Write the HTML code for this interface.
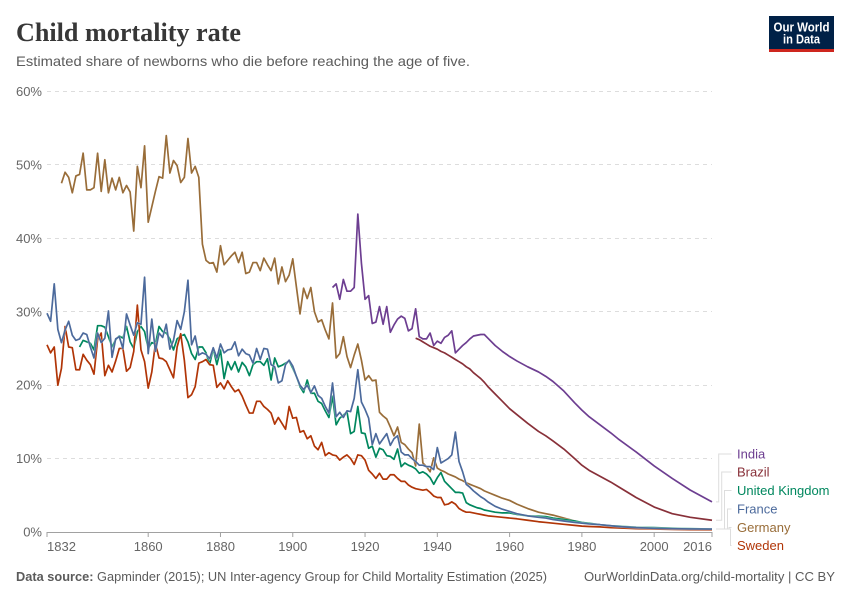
<!DOCTYPE html>
<html lang="en">
<head>
<meta charset="utf-8">
<title>Child mortality rate</title>
<style>
html,body{margin:0;padding:0;background:#fff;}
svg{display:block;font-family:"Liberation Sans",sans-serif;}
</style>
</head>
<body>
<svg id="chart" width="850" height="600" viewBox="0 0 850 600" xmlns="http://www.w3.org/2000/svg">
  <rect width="850" height="600" fill="#fff"/>
  <text x="16" y="41" font-family="'Liberation Serif',serif" font-weight="700" font-size="26" fill="#373737" textLength="225" lengthAdjust="spacingAndGlyphs">Child mortality rate</text>
  <text x="16" y="66" font-size="14" fill="#5b5b5b" textLength="454" lengthAdjust="spacingAndGlyphs">Estimated share of newborns who die before reaching the age of five.</text>
  <g>
    <rect x="769" y="16" width="65" height="36" fill="#002147"/>
    <rect x="769" y="49" width="65" height="3" fill="#ce261e"/>
    <text x="801.5" y="31.5" text-anchor="middle" font-size="12.5" font-weight="700" fill="#fff" textLength="56" lengthAdjust="spacingAndGlyphs">Our World</text>
    <text x="801.5" y="43.5" text-anchor="middle" font-size="12.5" font-weight="700" fill="#fff" textLength="37" lengthAdjust="spacingAndGlyphs">in Data</text>
  </g>
  <g id="grid"></g>
  <g id="yticks"></g>
  <g id="xaxis"></g>
  <g id="series"></g>
  <g id="legend"></g>
  <text x="16" y="581" font-size="13" fill="#5b5b5b" textLength="531" lengthAdjust="spacingAndGlyphs"><tspan font-weight="700">Data source:</tspan> Gapminder (2015); UN Inter-agency Group for Child Mortality Estimation (2025)</text>
  <text x="835" y="581" text-anchor="end" font-size="13" fill="#5b5b5b" textLength="251" lengthAdjust="spacingAndGlyphs">OurWorldinData.org/child-mortality | CC BY</text>
</svg>
<script>
const yTickValues = [10, 20, 30, 40, 50, 60];
const yTickLabels = ["10%", "20%", "30%", "40%", "50%", "60%"];
const xTickYears = [1832, 1860, 1880, 1900, 1920, 1940, 1960, 1980, 2000, 2016];
const lateYears = [1954,1956,1958,1960,1962,1965,1968,1970,1972,1975,1978,1980,1982,1985,1988,1990,1995,2000,2005,2010,2016];

const indiaStart = 1911;
const indiaEarly = [33.3,33.8,31.7,34.4,32.8,32.8,33.3,43.3,36.6,
  31.7,32.2,28.4,28.6,30.7,28.3,30.7,27.2,28.2,29.0,
  29.4,29.1,27.4,27.7,30.4,26.6,26.3,26.3,27.1,25.4,
  26.0,25.7,26.5,26.8,27.4,24.4,24.9,25.4,25.8,26.3,
  26.7,26.8,26.9,26.9];
const indiaLate = [26.4,25.4,24.6,23.9,23.3,22.5,21.8,21.2,20.5,19.2,17.6,16.6,15.7,14.6,13.5,12.7,10.9,9.0,7.3,5.7,4.1];

const brazilStart = 1934;
const brazilEarly = [26.4,26.2,25.9,25.6,25.3,25.1,
  24.9,24.6,24.4,24.1,23.8,23.5,23.2,22.9,22.5,22.2,
  21.7,21.3,20.9,20.4];
const brazilLate = [19.8,18.8,17.8,16.8,16.0,14.8,13.7,13.1,12.4,11.3,10.0,9.1,8.4,7.6,6.8,6.2,4.7,3.4,2.5,2.0,1.6];

const ukStart = 1841;
const ukEarly = [25.2,26.1,25.9,25.7,24.8,28.1,28.1,27.9,26.6,
  25.2,26.2,26.7,26.4,28.0,25.9,25.0,27.3,28.0,27.3,
  25.0,25.8,25.6,28.0,27.3,27.1,26.3,24.8,26.3,26.7,
  26.9,25.9,24.3,23.5,25.2,25.2,24.4,22.8,25.0,22.8,
  24.8,20.9,23.2,22.1,23.2,21.8,23.1,22.5,21.3,22.8,
  23.2,23.2,22.7,23.6,20.7,23.7,22.5,22.7,23.0,23.3,
  22.3,21.2,19.8,19.0,20.7,18.9,18.9,17.8,17.5,16.5,
  15.6,18.5,14.6,15.5,15.9,16.4,13.4,13.7,17.1,13.5,
  13.4,11.4,11.7,10.2,11.4,11.2,10.4,10.3,9.9,11.3,
  8.9,9.4,9.1,8.9,8.6,8.0,8.2,7.9,7.4,6.5,
  7.4,8.1,6.9,6.4,5.9,5.4,5.4,5.3,4.0,3.7,
  3.5,3.3,3.2,3.0];
const ukLate = [2.9,2.7,2.6,2.6,2.4,2.2,2.15,2.1,1.9,1.7,1.5,1.3,1.2,1.0,0.85,0.8,0.65,0.6,0.52,0.47,0.4];

const franceStart = 1832;
const franceEarly = [29.8,28.7,33.8,27.6,25.8,27.5,28.7,26.8,
  26.1,26.3,27.1,26.9,25.2,23.7,27.1,25.8,26.4,30.1,
  23.8,26.3,26.6,25.0,29.7,28.2,26.8,28.5,28.3,34.7,
  24.3,29.0,24.6,27.1,26.5,28.3,24.9,26.1,28.8,27.6,
  30.0,34.3,25.5,26.7,24.1,24.4,24.2,23.6,25.1,23.7,
  25.6,24.4,24.8,24.9,25.9,24.0,24.9,24.3,24.1,23.0,
  25.0,23.5,25.0,24.9,22.8,22.5,20.3,20.6,22.8,23.4,
  22.6,21.2,20.0,19.4,20.0,19.0,19.9,18.6,18.2,17.1,
  16.2,20.3,15.7,16.3,15.6,16.5,16.4,18.2,22.1,17.7,
  16.7,15.5,11.9,13.4,12.0,12.7,13.4,11.8,12.7,13.1,
  10.9,10.5,10.5,10.0,9.6,9.1,9.1,8.9,8.9,8.5,
  11.5,9.4,9.7,10.0,10.5,13.6,9.6,8.2,6.5,6.1,
  5.6,5.2,4.8,4.5];
const franceLate = [4.1,3.5,3.1,2.8,2.5,2.2,2.0,1.9,1.7,1.5,1.3,1.2,1.1,1.0,0.85,0.75,0.6,0.5,0.45,0.42,0.4];

const germanyStart = 1836;
const germanyEarly = [47.5,49.0,48.3,46.2,
  48.5,48.7,51.6,46.6,46.6,46.9,51.6,46.4,50.7,46.2,
  48.2,46.6,48.3,46.2,47.2,46.3,41.0,49.8,46.9,52.6,
  42.2,44.3,46.4,48.4,48.2,54.0,48.9,50.6,49.9,47.6,
  48.3,53.6,48.9,49.8,48.3,39.2,37.0,36.6,36.7,35.4,
  39.0,36.4,37.0,37.6,38.1,36.7,38.1,35.2,35.4,36.7,
  36.7,35.6,37.3,36.4,35.6,37.3,33.8,36.1,34.1,35.0,
  37.2,33.4,29.7,33.2,31.8,33.3,30.0,28.6,28.9,27.5,
  26.3,31.2,23.7,24.3,26.6,23.9,22.4,24.1,25.6,23.4,
  20.7,21.3,20.6,20.7,16.3,15.8,15.4,14.3,13.1,14.3,
  12.2,11.9,11.3,10.8,9.0,14.7,9.4,8.9,8.2,10.1,
  8.7,8.4,8.2,7.9,7.7,7.5,7.2,7.0,6.7,6.5,
  6.3,6.1,5.9,5.6];
const germanyLate = [5.4,5.0,4.6,4.3,3.8,3.2,2.7,2.5,2.3,1.9,1.5,1.3,1.15,1.0,0.85,0.75,0.55,0.45,0.4,0.37,0.33];

const swedenStart = 1832;
const swedenEarly = [25.5,24.4,25.2,20.0,22.3,28.0,25.2,25.1,
  22.1,22.1,24.2,23.4,22.8,21.5,26.2,27.1,21.3,22.7,
  21.8,23.3,25.0,25.0,21.9,22.4,24.6,30.9,24.8,23.2,
  19.6,21.8,25.7,23.7,23.6,23.2,22.1,21.0,25.2,27.0,
  23.4,18.3,18.7,19.8,23.0,23.2,23.5,22.8,22.7,19.7,
  20.3,19.5,20.6,19.8,19.1,19.4,18.5,17.3,16.2,16.2,
  17.8,17.8,17.1,16.7,16.2,14.7,15.6,14.8,14.0,17.1,
  15.5,15.6,13.6,13.8,12.7,13.1,11.7,11.2,12.2,10.4,
  10.8,10.5,10.4,9.8,10.2,10.5,10.0,9.2,10.5,10.4,
  9.8,8.4,7.9,7.3,8.0,7.2,7.2,7.8,7.8,7.3,
  6.9,6.9,6.4,6.1,5.9,5.8,5.7,5.8,5.4,4.9,
  4.7,4.7,3.7,3.8,4.1,3.8,3.2,2.9,2.7,2.7,
  2.6,2.5,2.4,2.3];
const swedenLate = [2.2,2.1,2.0,1.9,1.8,1.6,1.4,1.3,1.2,1.05,0.9,0.8,0.75,0.7,0.6,0.55,0.45,0.4,0.35,0.3,0.28];

const NS = "http://www.w3.org/2000/svg";
function x(year){ return 47 + (year - 1832) * (712 - 47) / (2016 - 1832); }
function y(pct){ return 532 - pct * (532 - 91.5) / 60; }
function make(parent, tag, attrs, text){
  const el = document.createElementNS(NS, tag);
  for (const k in attrs) el.setAttribute(k, attrs[k]);
  if (text !== undefined) el.textContent = text;
  parent.appendChild(el);
  return el;
}

const gridG = document.getElementById("grid");
const yG = document.getElementById("yticks");
const xG = document.getElementById("xaxis");
const seriesG = document.getElementById("series");
const legendG = document.getElementById("legend");

yTickValues.forEach(function(v, i){
  const gy = Math.floor(y(v)) + 0.5;
  const g = make(gridG, "line", {x1:47, x2:712, y1:gy, y2:gy, stroke:"#dddddd", "stroke-width":1, "stroke-dasharray":"4,4"});
  
  
  const t = make(yG, "text", {x:42, y:y(v)+4.5, "text-anchor":"end", "font-size":13, fill:"#666666"}, yTickLabels[i]);
  
  
});
const zero = make(yG, "text", {x:42, y:y(0)+4.5, "text-anchor":"end", "font-size":13, fill:"#666666"}, "0%");



const axisLine = make(xG, "line", {x1:x(1832), x2:x(2016), y1:y(0)+0.5, y2:y(0)+0.5, stroke:"#a1a1a1", "stroke-width":1});


xTickYears.forEach(function(yr, i){
  const tk = make(xG, "line", {x1:x(yr), x2:x(yr), y1:y(0), y2:y(0)+5, stroke:"#a1a1a1", "stroke-width":1});
  
  
  const anchor = i === 0 ? "start" : (i === xTickYears.length - 1 ? "end" : "middle");
  const lb = make(xG, "text", {x:x(yr), y:y(0)+19, "text-anchor":anchor, "font-size":13, fill:"#666666"}, String(yr));
  
  
});

function pathFor(start, early, late){
  const pts = [];
  early.forEach(function(v, i){ pts.push([x(start + i), y(v)]); });
  late.forEach(function(v, i){ pts.push([x(lateYears[i]), y(v)]); });
  return pts.map(function(p, i){ return (i ? "L" : "M") + p[0].toFixed(2) + " " + p[1].toFixed(2); }).join(" ");
}

function drawSeries(key, color, start, early, late){
  const halo = make(seriesG, "path", {d:pathFor(start, early, late), fill:"none", stroke:"#fff", "stroke-width":2.6, "stroke-linejoin":"round", opacity:0.5});
  
  
  const line = make(seriesG, "path", {d:pathFor(start, early, late), fill:"none", stroke:color, "stroke-width":1.7, "stroke-linejoin":"round"});
  
  
}
drawSeries("germany", "#996D39", germanyStart, germanyEarly, germanyLate);
drawSeries("india", "#6D3E91", indiaStart, indiaEarly, indiaLate);
drawSeries("brazil", "#883039", brazilStart, brazilEarly, brazilLate);
drawSeries("united-kingdom", "#00875E", ukStart, ukEarly, ukLate);
drawSeries("sweden", "#B13507", swedenStart, swedenEarly, swedenLate);
drawSeries("france", "#4C6A9C", franceStart, franceEarly, franceLate);

function drawLegend(key, label, color, labelY, endValue, elbowX){
  const sy = y(endValue);
  const startY = Math.abs(sy - 529) < 6 ? 529 : sy;
  const con = make(legendG, "path", {d:"M716 "+startY+" H"+elbowX+" V"+labelY+" H731.5", fill:"none", stroke:"#dddddd", "stroke-width":1});
  
  
  const t = make(legendG, "text", {x:737, y:labelY+4.5, "font-size":13, fill:color}, label);
  
  
}
drawLegend("india", "India", "#6D3E91", 454, indiaLate[indiaLate.length-1], 718.7);
drawLegend("brazil", "Brazil", "#883039", 472, brazilLate[brazilLate.length-1], 721.7);
drawLegend("united-kingdom", "United Kingdom", "#00875E", 490.5, ukLate[ukLate.length-1], 724.5);
drawLegend("france", "France", "#4C6A9C", 509, franceLate[franceLate.length-1], 727.5);
drawLegend("germany", "Germany", "#996D39", 527.5, germanyLate[germanyLate.length-1], 729);
drawLegend("sweden", "Sweden", "#B13507", 545.5, swedenLate[swedenLate.length-1], 730.5);
</script>
</body>
</html>
